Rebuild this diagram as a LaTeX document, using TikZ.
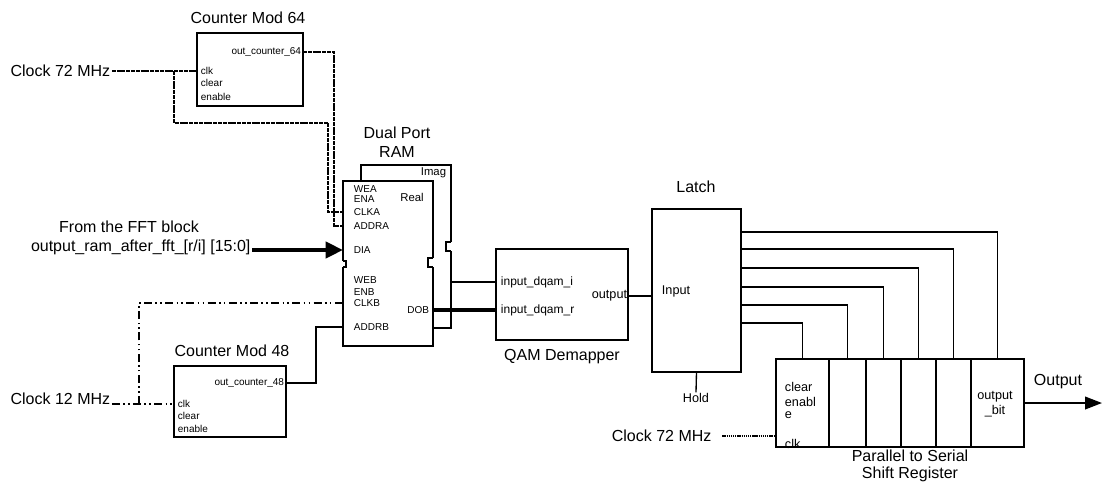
\documentclass[tikz,border=0pt]{standalone}
\usepackage{fontspec}
\setmainfont{Liberation Sans}
\usetikzlibrary{arrows.meta, positioning}
\tikzset{
  blk/.style={draw, line width=1pt, fill=white, inner sep=0pt, outer sep=0pt},
  title/.style={font=\fontsize{12}{14}\selectfont, align=center, inner sep=1pt},
  port/.style={font=\fontsize{7.5}{9}\selectfont, inner sep=0.5pt, anchor=west},
  mid/.style={font=\fontsize{9.5}{11.25}\selectfont, inner sep=0.5pt},
  clkw/.style={line width=1.8pt, dash pattern=on 3pt off 0.6pt},
  slow/.style={line width=1.5pt, dash pattern=on 6pt off 2.5pt on 1.2pt off 2.5pt on 1.2pt off 2.5pt},
  wire/.style={line width=1pt},
  bus/.style={line width=2pt},
  fatbus/.style={line width=3pt},
}

\begin{document}
\begin{tikzpicture}[x=0.75pt, y=-0.75pt]
  \useasboundingbox (0,0) rectangle (1103,483);

  % Counter Mod 64
  \node[blk, minimum width=79.5pt, minimum height=54.75pt] (c64) at (250,69.5) {};
  \node[title] (c64t) at (248,18) {Counter Mod 64};
  \node[port, anchor=east] (c64out) at (302,52) {out\_counter\_64};
  \node[port] (c64clk) at (200,71) {clk};
  \node[port] (c64clr) at (200,83) {clear};
  \node[port] (c64en) at (200,97) {enable};
  \node[title, anchor=west] (clk72) at (9,71) {Clock 72 MHz};

  % Counter Mod 48
  \node[blk, minimum width=84pt, minimum height=53.25pt] (c48) at (230,401.5) {};
  \node[title] (c48t) at (232,351) {Counter Mod 48};
  \node[port, anchor=east] (c48out) at (285,383) {out\_counter\_48};
  \node[port] (c48clk) at (177,404) {clk};
  \node[port] (c48clr) at (177,416) {clear};
  \node[port] (c48en) at (177,429) {enable};
  \node[title, anchor=base west] (clk12) at (9,404) {Clock 12 MHz};

  % Dual port RAM (imag behind, real in front)
  \node[blk, minimum width=67.5pt, minimum height=122.25pt] (ramim) at (406,246.5) {};
  \node[blk, minimum width=67.5pt, minimum height=123.75pt] (ramre) at (388,263.5) {};
  \node[title] (ramt) at (397,142) {Dual Port\\RAM};
  \foreach \nm/\txt/\y in {wea/WEA/189, ena/ENA/199, clka/CLKA/212, addra/ADDRA/226,
      dia/DIA/250, web/WEB/280, enb/ENB/292, clkb/CLKB/303, addrb/ADDRB/327}
    \node[port] (ram\nm) at (353,\y) {\txt};
  \node[port, anchor=center, font=\fontsize{8.5}{9}\selectfont] (ramreal) at (412,197) {Real};
  \node[port, anchor=east, font=\fontsize{8.5}{9}\selectfont] (ramimag) at (447,173) {Imag};
  \node[port, anchor=east] (ramdob) at (430,310) {DOB};
  % notches
  \draw[white, line width=2.5pt] (343,261) -- (343,267) (433,258) -- (433,267) (451,242) -- (451,251);
  \draw[wire] (343,261) -- (346,261) -- (346,267) -- (343,267);
  \draw[wire] (433,258) -- (428,258) -- (428,267) -- (433,267);
  \draw[wire] (451,242) -- (446,242) -- (446,251) -- (451,251);

  % FFT input
  \node[title] (fft1) at (129,227) {From the FFT block};
  \node[title, anchor=east] (fft2) at (252,247) {output\_ram\_after\_fft\_[r/i] [15:0]};
  \draw[fatbus, -{Triangle[length=13pt, width=12pt]}] (fft2.east |- ramdia) -- (ramre.west |- ramdia);

  % QAM Demapper
  \node[blk, minimum width=99pt, minimum height=68.25pt] (qam) at (562,294.5) {};
  \node[title] (qamt) at (562,357) {QAM Demapper};
  \node[port, font=\fontsize{9}{10}\selectfont] (qami) at (500,282) {input\_dqam\_i};
  \node[port, font=\fontsize{9}{10}\selectfont] (qamr) at (500,310) {input\_dqam\_r};
  \node[mid, anchor=east] (qamout) at (628,296) {output};

  % Latch
  \node[blk, minimum width=66.75pt, minimum height=122.25pt] (latch) at (696.5,290.5) {};
  \node[title] (latcht) at (696,187) {Latch};
  \node[mid, anchor=west] (latchin) at (661,291) {Input};
  \node[mid] (hold) at (696,398) {Hold};

  % Parallel to serial shift register
  \node[blk, minimum width=39.75pt, minimum height=66pt] (sr1) at (802.5,403) {};
  \node[blk, minimum width=27.75pt, minimum height=66pt, right=0pt of sr1] (sr2) {};
  \node[blk, minimum width=26.25pt, minimum height=66pt, right=0pt of sr2] (sr3) {};
  \node[blk, minimum width=26.25pt, minimum height=66pt, right=0pt of sr3] (sr4) {};
  \node[blk, minimum width=26.25pt, minimum height=66pt, right=0pt of sr4] (sr5) {};
  \node[blk, minimum width=39.75pt, minimum height=66pt, right=0pt of sr5] (sr6) {};
  \node[mid, anchor=west] (srclr) at (784,387) {clear};
  \node[mid, anchor=west] (sren) at (784,402) {enabl};
  \node[mid, anchor=west] (sre) at (784,415) {e};
  \node[mid, anchor=west] (srclk) at (784,444) {clk};
  \node[mid, align=center] (srout) at (995,404) {output\\\_bit};
  \node[title, font=\fontsize{12}{12.75}\selectfont] (srt) at (910,466) {Parallel to Serial\\Shift Register};
  \node[title, anchor=east] (clkc) at (713,436) {Clock 72 MHz};
  \node[title] (outt) at (1058,382) {Output};
  \coordinate (outend) at (1102,403);

  % Clock 72 MHz to counter and RAM
  \coordinate (tap72) at (174,71);
  \draw[clkw] (clk72.east) -- (c64.west |- c64clk);
  \draw[clkw] (tap72) |- (328,123) |- (ramre.west |- ramclka);
  \draw[clkw, line width=1.3pt] (c64.east |- c64out) -- (334,52) |- (ramre.west |- ramaddra);

  % Clock 12 MHz to counter and RAM
  \coordinate (tap12) at (139,404);
  \draw[slow] (clk12.base east) -- (c48.west |- c48clk);
  \draw[slow] (tap12) |- (ramre.west |- ramclkb);
  \draw[bus] (c48.east |- c48out) -- (316,383) |- (ramre.west |- ramaddrb);

  % RAM to demapper to latch
  \draw[bus] (ramim.east |- qami) -- (qam.west |- qami);
  \draw[fatbus] (ramre.east |- ramdob) -- (qam.west |- qamr);
  \draw[line width=1.5pt] (qam.east |- qamout) -- (latch.west |- qamout);
  \draw[wire] (latch.south) -- (hold.north);

  % Latch to shift register cells
  \foreach \i/\y in {1/323, 2/305, 3/287, 4/268, 5/249, 6/232}
    \draw[wire] (latch.east |- 0,\y) -| (sr\i.north);

  % Clock and output of the shift register
  \draw[line width=1pt, dash pattern=on 1pt off 0.6pt] ([xshift=7pt]clkc.east) -- (sr1.west |- clkc.east);
  \draw[line width=1.4pt, -{Triangle[length=12.75pt, width=9.5pt]}] (sr6.east) -- (outend);
\end{tikzpicture}
\end{document}
